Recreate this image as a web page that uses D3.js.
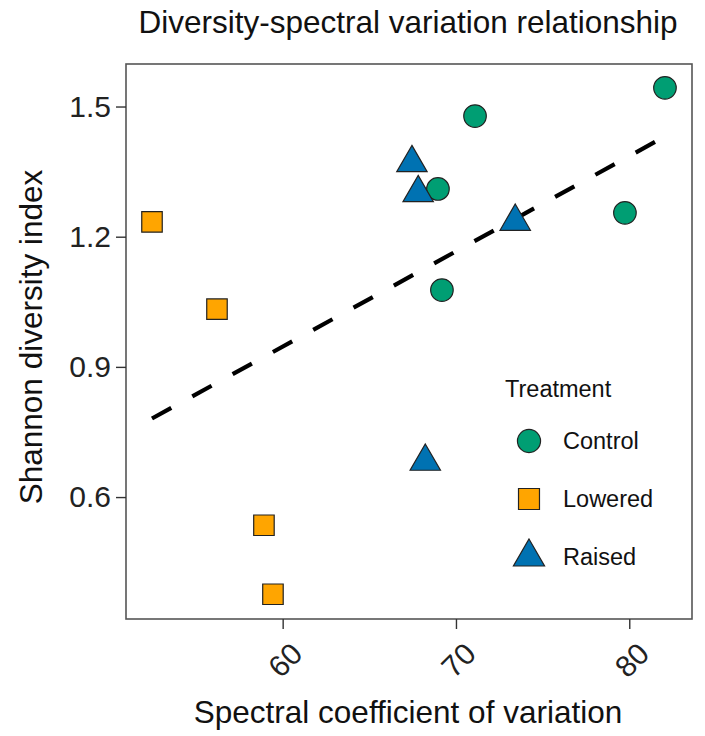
<!DOCTYPE html>
<html>
<head>
<meta charset="utf-8">
<style>
    body { margin: 0; background: #fff; }
    svg { font-family: 'Liberation Sans', Arial, sans-serif; }
    .axis .domain { display: none; }
    .axis .tick line { stroke: #333; stroke-width: 1.4px; }
    .axis .tick text { fill: #222; font-size: 30px; }
</style>
</head>
<body>
<svg width="705" height="736"></svg>

<script src="https://d3js.org/d3.v7.min.js"></script>
<script>

    // data
    let groups = ["Control", "Lowered", "Raised"]
    let colors = ["#009E73", "#FFA500", "#0072B2"]

    let controlX = [82.06, 71.1, 68.96, 69.19, 79.75]
    let controlY = [1.543, 1.478, 1.310, 1.077, 1.255]

    let loweredX = [52.46, 56.21, 58.92, 59.44]
    let loweredY = [1.234, 1.033, 0.535, 0.376]

    let raisedX = [67.46, 67.82, 73.42, 68.23]
    let raisedY = [1.370, 1.301, 1.235, 0.682]

    // fitted line end points
    let fitX = [52.46, 82.06]
    let fitY = [0.781, 1.431]

    let xTicks = [60, 70, 80]
    let yTicks = [0.6, 0.9, 1.2, 1.5]

    let margin = { top: 64, right: 13, bottom: 117, left: 126 }
    let width = 705
    let height = 736

    let svg = d3.select("svg")

    let x = d3.scaleLinear()
        .domain([50.96, 83.62])
        .range([margin.left, width - margin.right])

    let y = d3.scaleLinear()
        .domain([0.319, 1.598])
        .range([height - margin.bottom, margin.top])

    let points = []
    controlX.forEach(function (v, i) { points.push({ x: v, y: controlY[i], g: 0 }) })
    loweredX.forEach(function (v, i) { points.push({ x: v, y: loweredY[i], g: 1 }) })
    raisedX.forEach(function (v, i) { points.push({ x: v, y: raisedY[i], g: 2 }) })

    let shapes = [d3.symbolCircle, d3.symbolSquare, d3.symbolTriangle]
    let sizes = [400, 420, 400]

    // panel border
    svg.append("rect")
        .attr("x", margin.left)
        .attr("y", margin.top)
        .attr("width", width - margin.left - margin.right)
        .attr("height", height - margin.top - margin.bottom)
        .style("fill", "none")
        .style("stroke", "#555")
        .style("stroke-width", 1.6)

    let yAxis = svg.append("g")
        .attr("class", "y axis")
        .attr("transform", `translate(${margin.left},0)`)
        .call(d3.axisLeft(y).tickValues(yTicks).tickSize(10).tickPadding(5).tickFormat(d3.format(".1f")))

    let xAxis = svg.append("g")
        .attr("class", "x axis")
        .attr("transform", `translate(0,${height - margin.bottom})`)
        .call(d3.axisBottom(x).tickValues(xTicks).tickSize(10).tickPadding(5))

    xAxis.selectAll(".tick text")
        .attr("y", 0)
        .attr("dy", "0.35em")
        .style("text-anchor", "middle")
        .attr("transform", "translate(2,41) rotate(-45)")

    // regression line
    let line = d3.line()
        .x(function (d) { return x(d[0]) })
        .y(function (d) { return y(d[1]) })

    svg.append("path")
        .attr("d", line(d3.zip(fitX, fitY)))
        .style("fill", "none")
        .style("stroke", "#000")
        .style("stroke-width", 4.2)
        .style("stroke-dasharray", "22 24")

    svg.selectAll(".pt")
        .data(points)
        .enter()
        .append("path")
        .attr("class", "pt")
        .attr("transform", function (d) { return `translate(${x(d.x)},${y(d.y)})` })
        .attr("d", function (d) { return d3.symbol().type(shapes[d.g]).size(sizes[d.g])() })
        .style("fill", function (d) { return colors[d.g] })
        .style("stroke", "#222")
        .style("stroke-width", 1.2)

    // legend
    svg.append("text")
        .attr("x", 505)
        .attr("y", 397)
        .text("Treatment")
        .style("font-size", "23.5px")
        .style("fill", "#111")

    let legend = svg.selectAll(".leg")
        .data(groups)
        .enter()
        .append("g")
        .attr("class", "leg")
        .attr("transform", function (d, i) { return `translate(529,${441 + i * 58})` })

    legend.append("path")
        .attr("d", function (d, i) { return d3.symbol().type(shapes[i]).size(sizes[i] + 20)() })
        .style("fill", function (d, i) { return colors[i] })
        .style("stroke", "#222")
        .style("stroke-width", 1.2)

    legend.append("text")
        .attr("x", 34)
        .attr("dy", "0.35em")
        .text(function (d) { return d })
        .style("font-size", "23.5px")
        .style("fill", "#111")

    // titles
    svg.append("text")
        .attr("x", 408)
        .attr("y", 33)
        .style("text-anchor", "middle")
        .style("font-size", "31.5px")
        .style("fill", "#111")
        .text("Diversity-spectral variation relationship")

    svg.append("text")
        .attr("x", 408)
        .attr("y", 723)
        .style("text-anchor", "middle")
        .style("font-size", "31.5px")
        .style("fill", "#111")
        .text("Spectral coefficient of variation")

    svg.append("text")
        .attr("transform", "translate(42,337) rotate(-90)")
        .style("text-anchor", "middle")
        .style("font-size", "31.5px")
        .style("fill", "#111")
        .text("Shannon diversity index")

</script>
</body>
</html>
